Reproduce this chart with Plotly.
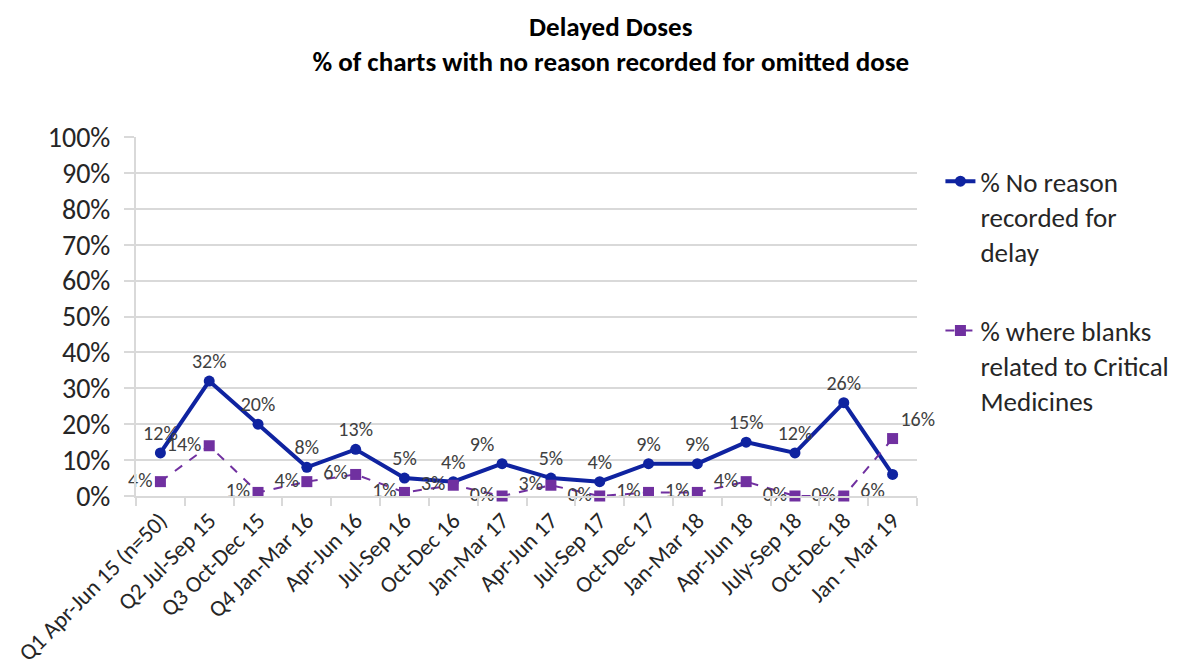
import plotly.graph_objects as go

categories = ["Q1 Apr-Jun 15 (n=50)", "Q2 Jul-Sep 15", "Q3 Oct-Dec 15", "Q4 Jan-Mar 16",
              "Apr-Jun 16", "Jul-Sep 16", "Oct-Dec 16", "Jan-Mar 17", "Apr-Jun 17",
              "Jul-Sep 17", "Oct-Dec 17", "Jan-Mar 18", "Apr-Jun 18", "July-Sep 18",
              "Oct-Dec 18", "Jan - Mar 19"]
no_reason = [12, 32, 20, 8, 13, 5, 4, 9, 5, 4, 9, 9, 15, 12, 26, 6]
critical = [4, 14, 1, 4, 6, 1, 3, 0, 3, 0, 1, 1, 4, 0, 0, 16]

name_a = "% No reason<br>recorded for<br>delay"
name_b = "% where blanks<br>related to Critical<br>Medicines"

FONT = "Carlito, Lato, sans-serif"
BLUE = "#0f23a0"
PURPLE = "#7030A0"
GRID = "#d9d9d9"

pos_a = ["top center"] * len(categories)
pos_a[7] = "top left"
pos_a[15] = "bottom left"
pos_b = ["middle left"] * len(categories)
pos_b[15] = "top right"

fig = go.Figure()
fig.add_trace(go.Scatter(
    x=categories, y=[v / 100 for v in no_reason], name=name_a, legendgroup="a",
    mode="lines+markers+text", text=[f"{v}%" for v in no_reason], textposition=pos_a,
    textfont=dict(size=20, color="#404040", family=FONT),
    line=dict(color=BLUE, width=4), marker=dict(symbol="circle", size=11, color=BLUE),
    cliponaxis=False,
))
fig.add_trace(go.Scatter(
    x=categories, y=[v / 100 for v in critical], name=name_b, legendgroup="b",
    mode="lines+markers+text", text=[f"{v}%" for v in critical], textposition=pos_b,
    textfont=dict(size=20, color="#404040", family=FONT),
    line=dict(color=PURPLE, width=2, dash="dash"), marker=dict(symbol="square", size=11, color=PURPLE),
    cliponaxis=False,
))

fig.update_layout(
    width=1175, height=661,
    paper_bgcolor="white", plot_bgcolor="white",
    font=dict(family=FONT, color="#262626"),
    margin=dict(l=128, r=266, t=129, b=173, autoexpand=False),
    title=dict(text="<b>Delayed Doses<br>% of charts with no reason recorded for omitted dose</b>",
               x=0.513, xanchor="center", y=0.958, yanchor="top",
               font=dict(size=27, family=FONT, color="#000000")),
    showlegend=True,
    legend=dict(x=1.03, xanchor="left", y=0.944, yanchor="top", valign="top",
                font=dict(size=27, family=FONT, color="#262626"),
                tracegroupgap=41, bgcolor="rgba(0,0,0,0)"),
    xaxis=dict(type="category", showgrid=False, showline=True, linecolor=GRID, linewidth=2,
               ticks="outside", tickson="boundaries", ticklen=8, tickcolor=GRID, tickwidth=2,
               tickangle=-45, tickfont=dict(size=23, family=FONT, color="#262626"),
               range=[-0.5, 15.5], automargin=False),
    yaxis=dict(range=[0, 1], dtick=0.1, tickformat=".0%", showgrid=True, gridcolor=GRID,
               gridwidth=2, showline=True, linecolor=GRID, linewidth=2,
               ticks="outside", ticklen=10, tickcolor=GRID, tickwidth=2,
               ticklabelstandoff=8,
               tickfont=dict(size=28, family=FONT, color="#262626"), zeroline=False,
               automargin=False),
)

fig.write_html("out.html")
